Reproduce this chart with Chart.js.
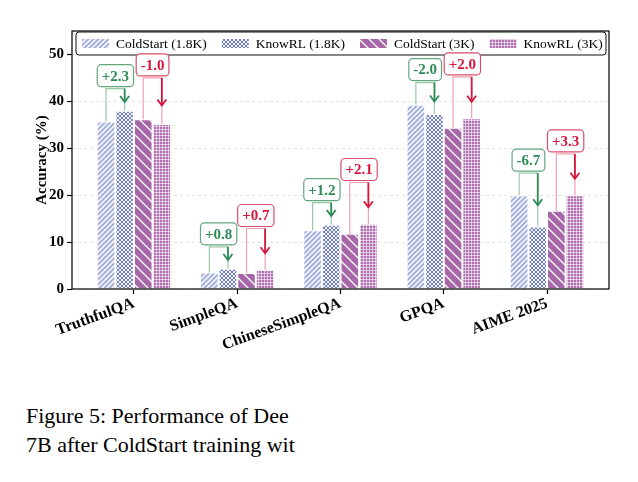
<!DOCTYPE html>
<html>
<head>
<meta charset="utf-8">
<script src="https://cdn.jsdelivr.net/npm/chart.js@4.4.1/dist/chart.umd.min.js"></script>
<style>
body{margin:0;background:#fff;width:638px;height:482px;overflow:hidden;position:relative}
#wrap{position:absolute;left:0;top:0;width:638px;height:360px}
#cap{position:absolute;left:26px;top:401px;font:22px 'Liberation Serif',serif;line-height:29px;color:#000;white-space:nowrap}
</style>
</head>
<body>
<div id="wrap"><canvas id="chart"></canvas></div>
<div id="cap">Figure 5: Performance of Dee<br>7B after ColdStart training wit</div>
<script>
const categories=['TruthfulQA','SimpleQA','ChineseSimpleQA','GPQA','AIME 2025'];
const coldStart18=[35.7,3.5,12.5,39.3,20.0];
const knowRL18=[38.0,4.3,13.7,37.3,13.3];
const coldStart3=[36.2,3.4,11.8,34.4,16.7];
const knowRL3=[35.2,4.1,13.9,36.4,20.0];
const yTicks=[0,10,20,30,40,50];
const seriesNames=['ColdStart (1.8K)','KnowRL (1.8K)','ColdStart (3K)','KnowRL (3K)'];

const SERIF='"Liberation Serif", "Times New Roman", serif';

// small tiles for the hatch fills
function tile(size,bg,draw){
  const c=document.createElement('canvas');
  c.width=c.height=size;
  const g=c.getContext('2d');
  g.fillStyle=bg; g.fillRect(0,0,size,size);
  draw(g,size);
  return g.createPattern(c,'repeat');
}
function seg(g,x1,y1,x2,y2){g.beginPath();g.moveTo(x1,y1);g.lineTo(x2,y2);g.stroke();}

const fillCS18=tile(5,'#a6b0dc',(g,s)=>{
  g.strokeStyle='#fff'; g.lineWidth=1.4;
  seg(g,0,s,s,0); seg(g,-1,1,1,-1); seg(g,s-1,s+1,s+1,s-1);
});
const fillKR18=tile(4,'#f2f3fa',(g,s)=>{
  g.strokeStyle='#6475b4'; g.lineWidth=0.9;
  seg(g,0,0,s,s); seg(g,0,s,s,0);
});
const fillCS3=tile(10,'#a766a7',(g,s)=>{
  g.strokeStyle='#fff'; g.lineWidth=1.3;
  seg(g,0,0,s,s); seg(g,-1,s-1,1,s+1); seg(g,s-1,-1,s+1,1);
});
const fillKR3=tile(3,'#b06db0',(g,s)=>{
  g.strokeStyle='rgba(255,255,255,0.6)'; g.lineWidth=1;
  seg(g,0,0.5,s,0.5); seg(g,0.5,0,0.5,s);
});
const fills=[fillCS18,fillKR18,fillCS3,fillKR3];

// green for the 1.8K pair, red for the 3K pair
const pairs=[
  {a:0,b:1,dark:'#2e8b57',light:'#98caa7',edge:'#62a77c',off:4.7},
  {a:2,b:3,dark:'#d6163c',light:'#f3a0b0',edge:'#d9506a',off:8.8}
];

const extras={
  id:'extras',
  afterDatasetsDraw(chart){
    const {ctx,chartArea:ca,scales:{y}}=chart;
    // frame
    ctx.save();
    ctx.strokeStyle='#000'; ctx.lineWidth=1.2;
    ctx.strokeRect(ca.left,ca.top,ca.right-ca.left,ca.bottom-ca.top);
    ctx.restore();

    // legend inside the plot
    ctx.save();
    const lx=ca.left+4, lr=ca.right-3, lt=ca.top+1, lb=ca.top+24;
    ctx.beginPath(); ctx.roundRect(lx,lt,lr-lx,lb-lt,3);
    ctx.fillStyle='#fff'; ctx.fill();
    ctx.strokeStyle='#111'; ctx.lineWidth=1; ctx.stroke();
    ctx.font='13.5px '+SERIF; ctx.textBaseline='middle'; ctx.fillStyle='#000';
    let x=lx+6; const cy=(lt+lb)/2;
    seriesNames.forEach((n,i)=>{
      ctx.fillStyle=fills[i]; ctx.fillRect(x,cy-4.5,27,9);
      ctx.fillStyle='#000'; ctx.fillText(n,x+34,cy+0.5);
      x+=34+ctx.measureText(n).width+15;
    });
    ctx.restore();

    // difference brackets and labels
    pairs.forEach(p=>{
      const ma=chart.getDatasetMeta(p.a), mb=chart.getDatasetMeta(p.b);
      const va=chart.data.datasets[p.a].data, vb=chart.data.datasets[p.b].data;
      categories.forEach((c,i)=>{
        const A=ma.data[i], B=mb.data[i];
        const top=y.getPixelForValue(Math.max(va[i].y,vb[i].y)+p.off);
        ctx.save();
        ctx.strokeStyle=p.light; ctx.lineWidth=1.2;
        ctx.beginPath(); ctx.moveTo(A.x,A.y); ctx.lineTo(A.x,top); ctx.lineTo(B.x,top); ctx.lineTo(B.x,B.y); ctx.stroke();
        const end=top+0.6*(B.y-top);
        ctx.strokeStyle=p.dark; ctx.lineWidth=1.8;
        ctx.beginPath(); ctx.moveTo(B.x,top); ctx.lineTo(B.x,end); ctx.stroke();
        ctx.beginPath(); ctx.moveTo(B.x-4.5,end-6); ctx.lineTo(B.x,end); ctx.lineTo(B.x+4.5,end-6); ctx.stroke();
        const d=vb[i].y-va[i].y;
        const txt=(d>0?'+':'')+d.toFixed(1);
        ctx.font='bold 15px '+SERIF;
        const w=ctx.measureText(txt).width+9, h=22, cx=(A.x+B.x)/2, by=top-2;
        ctx.beginPath(); ctx.roundRect(cx-w/2,by-h,w,h,4);
        ctx.fillStyle='#fff'; ctx.fill();
        ctx.strokeStyle=p.edge; ctx.lineWidth=1.2; ctx.stroke();
        ctx.fillStyle=p.dark; ctx.textAlign='center'; ctx.textBaseline='middle';
        ctx.fillText(txt,cx,by-h/2+1);
        ctx.restore();
      });
    });
  }
};

const series=[coldStart18,knowRL18,coldStart3,knowRL3];
new Chart(document.getElementById('chart'),{
  type:'bar',
  data:{
    datasets:series.map((vals,k)=>({
      label:seriesNames[k],
      data:vals.map((v,i)=>({x:i,y:v})),
      backgroundColor:fills[k],
      borderColor:'#fff',
      borderWidth:1
    }))
  },
  options:{
    responsive:true,
    maintainAspectRatio:false,
    animation:false,
    layout:{padding:{top:31,right:29,left:0,bottom:0}},
    datasets:{bar:{categoryPercentage:0.72,barPercentage:1}},
    plugins:{legend:{display:false},tooltip:{enabled:false}},
    scales:{
      x:{
        type:'linear',min:-0.6,max:4.6,offset:false,
        afterBuildTicks:s=>{s.ticks=categories.map((c,i)=>({value:i}));},
        afterFit:s=>{s.height=71;},
        grid:{offset:false,drawOnChartArea:false,drawTicks:true,tickLength:5,tickColor:'#000',tickWidth:1.2},
        border:{display:false},
        ticks:{autoSkip:false,maxRotation:20,minRotation:20,padding:0,color:'#000',
          font:{family:SERIF,size:16,weight:'bold'},
          callback:v=>categories[v]}
      },
      y:{
        min:0,max:55,
        afterBuildTicks:s=>{s.ticks=yTicks.map(v=>({value:v}));},
        afterFit:s=>{s.width=72;},
        grid:{color:'#e4e4e4',lineWidth:1,tickLength:5,tickColor:'#000',tickWidth:1.2},
        border:{display:false,dash:[3,3]},
        title:{display:true,text:'Accuracy (%)',color:'#000',
          font:{family:SERIF,size:15,weight:'bold'},padding:{top:33,bottom:0}},
        ticks:{color:'#000',padding:3,font:{family:SERIF,size:15,weight:'bold'}}
      }
    }
  },
  plugins:[extras]
});
</script>
</body>
</html>
